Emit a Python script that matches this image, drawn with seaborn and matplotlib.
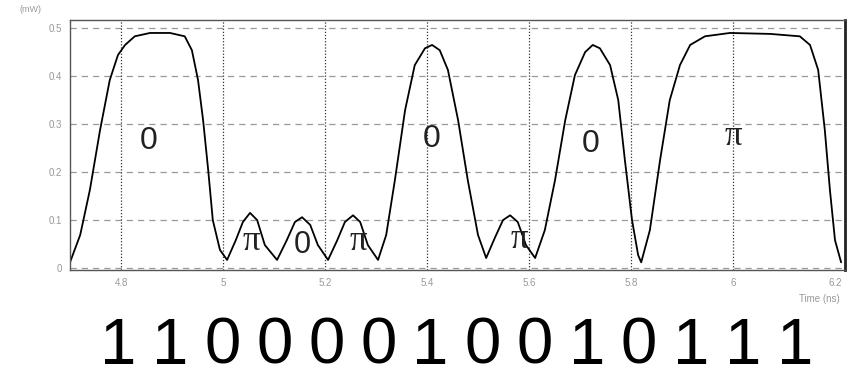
import matplotlib
matplotlib.use("Agg")
import matplotlib.pyplot as plt
import seaborn as sns
import pandas as pd

# Waveform samples: time (ns), optical power (mW)
time_ns = [4.700, 4.720, 4.739, 4.759, 4.778, 4.794, 4.808, 4.827, 4.857, 4.896,
           4.925, 4.939, 4.951, 4.961, 4.971, 4.980, 4.994, 5.008, 5.025, 5.039,
           5.053, 5.067, 5.082, 5.106, 5.125, 5.141, 5.155, 5.171, 5.186, 5.206,
           5.224, 5.239, 5.255, 5.269, 5.284, 5.304, 5.320, 5.337, 5.357, 5.376,
           5.396, 5.410, 5.425, 5.441, 5.461, 5.480, 5.500, 5.516, 5.533, 5.549,
           5.563, 5.578, 5.594, 5.612, 5.631, 5.651, 5.671, 5.690, 5.710, 5.725,
           5.739, 5.759, 5.775, 5.788, 5.802, 5.814, 5.820, 5.837, 5.857, 5.876,
           5.896, 5.916, 5.945, 5.994, 6.073, 6.131, 6.151, 6.167, 6.180, 6.190,
           6.200, 6.212]
power_mw = [0.012, 0.069, 0.163, 0.288, 0.392, 0.444, 0.465, 0.483, 0.490, 0.490,
            0.483, 0.454, 0.392, 0.308, 0.204, 0.100, 0.038, 0.017, 0.058, 0.096,
            0.115, 0.100, 0.048, 0.017, 0.058, 0.096, 0.106, 0.090, 0.048, 0.017,
            0.058, 0.096, 0.110, 0.096, 0.048, 0.017, 0.069, 0.183, 0.329, 0.423,
            0.458, 0.465, 0.454, 0.413, 0.308, 0.183, 0.069, 0.021, 0.063, 0.100,
            0.110, 0.096, 0.048, 0.021, 0.079, 0.183, 0.308, 0.402, 0.450, 0.465,
            0.458, 0.423, 0.350, 0.225, 0.100, 0.027, 0.012, 0.079, 0.225, 0.350,
            0.423, 0.465, 0.483, 0.490, 0.488, 0.483, 0.465, 0.413, 0.288, 0.163,
            0.058, 0.012]

x_ticks = [4.8, 5.0, 5.2, 5.4, 5.6, 5.8, 6.0, 6.2]
x_tick_labels = ["4.8", "5", "5.2", "5.4", "5.6", "5.8", "6", "6.2"]
y_ticks = [0, 0.1, 0.2, 0.3, 0.4, 0.5]
y_tick_labels = ["0", "0.1", "0.2", "0.3", "0.4", "0.5"]

# Phase labels placed on the waveform
phase_text = ["0", "π", "0", "π", "0", "π", "0", "π"]
phase_t = [4.855, 5.055, 5.155, 5.265, 5.41, 5.58, 5.72, 6.0]
phase_p = [0.265, 0.055, 0.048, 0.055, 0.27, 0.06, 0.258, 0.275]

bits = ["1", "1", "0", "0", "0", "0", "1", "0", "0", "1", "0", "1", "1", "1"]

sns.set_theme(style="white")
plt.rcParams['font.family'] = ['Liberation Sans', 'DejaVu Sans']

fig = plt.figure(figsize=(8.49, 3.76), dpi=100)
ax = fig.add_axes([70/849, 1-270/376, 775/849, 250/376])

df = pd.DataFrame({"t": time_ns, "p": power_mw})
sns.lineplot(data=df, x="t", y="p", color="black", lw=1.3, ax=ax,
             estimator=None, sort=False)

ax.set_xlim(4.7, 6.2196)
ax.set_ylim(-0.004, 0.517)

for yv in y_ticks:
    ax.axhline(yv, color="#999999", lw=0.9, ls=(0, (5, 4)), zorder=0)
for xv in x_ticks[:-1]:
    ax.axvline(xv, color="#333333", lw=0.9, ls=(0, (1, 1.5)), zorder=0)

ax.set_xticks(x_ticks)
ax.set_xticklabels(x_tick_labels)
ax.set_yticks(y_ticks)
ax.set_yticklabels(y_tick_labels)
ax.tick_params(axis="both", labelsize=7, colors="#999999", length=0, pad=6)
ax.set_xlabel("")
ax.set_ylabel("")

for s in ax.spines.values():
    s.set_color("#555555")
    s.set_linewidth(1.0)
ax.spines["right"].set_color("#222222")
ax.spines["right"].set_linewidth(2.0)

for txt, tx, py in zip(phase_text, phase_t, phase_p):
    if txt == "π":
        ax.text(tx, py, txt, ha="center", va="center", fontsize=25,
                color="#222222", family=['Liberation Serif', 'DejaVu Serif'])
    else:
        ax.text(tx, py, txt, ha="center", va="center",
                fontsize=23 if py > 0.2 else 22, color="#222222",
                family=['Liberation Sans', 'DejaVu Sans'])

fig.text(20/849, 1-10/376, "(mW)", fontsize=6.5, color="#999999", ha="left", va="center")
fig.text(840/849, 1-299/376, "Time (ns)", fontsize=7, color="#999999",
         ha="right", va="center")

# bit sequence below the chart
x0, x1 = 118, 795
for i, b in enumerate(bits):
    xp = x0 + i*(x1-x0)/(len(bits)-1)
    fig.text(xp/849, 1-347/376, b, fontsize=47, color="black",
             ha="center", va="center")

fig.savefig("out.png", dpi=100)
